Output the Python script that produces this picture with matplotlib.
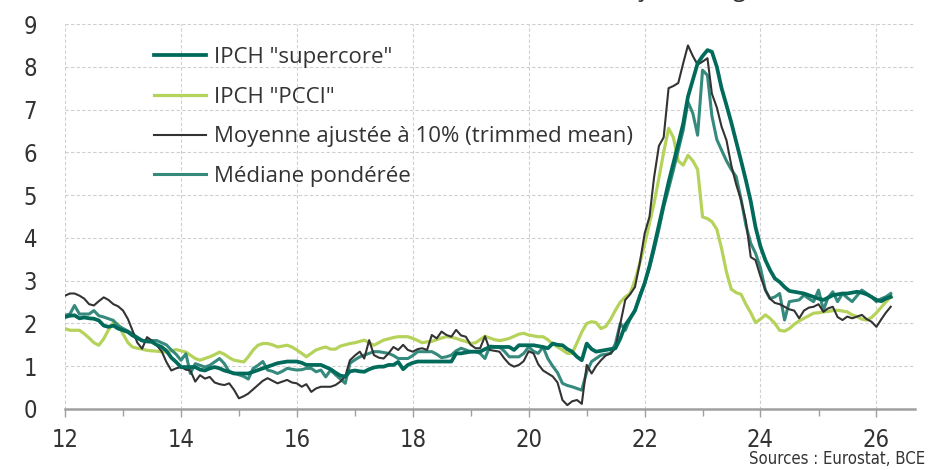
import matplotlib
matplotlib.use("Agg")
import matplotlib.pyplot as plt
import matplotlib.dates as mdates
from matplotlib import font_manager as fm
import numpy as np
import pandas as pd

# monthly values, Jan 2012 -> Apr 2026 (% y/y)
supercore = [
    2.15, 2.18, 2.19, 2.12, 2.14, 2.12, 2.11, 2.07, 1.95, 1.92, 1.95, 1.88,
    1.84, 1.80, 1.72, 1.66, 1.60, 1.58, 1.57, 1.50, 1.45, 1.36, 1.20, 1.10,
    0.98, 0.98, 0.98, 0.98, 0.92, 0.90, 0.95, 0.98, 0.95, 0.90, 0.87, 0.83,
    0.83, 0.83, 0.83, 0.87, 0.91, 0.95, 0.99, 1.03, 1.07, 1.09, 1.11, 1.11,
    1.11, 1.08, 1.03, 1.03, 1.03, 1.03, 0.98, 0.93, 0.85, 0.78, 0.76, 0.88,
    0.90, 0.88, 0.87, 0.93, 0.97, 0.99, 0.99, 1.03, 1.03, 1.10, 0.93, 1.03,
    1.08, 1.11, 1.11, 1.11, 1.11, 1.11, 1.11, 1.11, 1.11, 1.30, 1.30, 1.32,
    1.34, 1.34, 1.34, 1.40, 1.45, 1.45, 1.45, 1.45, 1.45, 1.38, 1.49, 1.49,
    1.49, 1.49, 1.47, 1.45, 1.42, 1.53, 1.50, 1.49, 1.40, 1.34, 1.22, 1.14,
    1.53, 1.40, 1.34, 1.36, 1.38, 1.40, 1.42, 1.65, 1.96, 2.12, 2.30, 2.62,
    2.94, 3.35, 3.79, 4.30, 4.80, 5.30, 5.74, 6.20, 6.67, 7.30, 7.70, 8.08,
    8.25, 8.39, 8.35, 8.00, 7.50, 7.10, 6.70, 6.25, 5.80, 5.35, 4.85, 4.25,
    3.80, 3.48, 3.25, 3.05, 2.97, 2.85, 2.76, 2.74, 2.72, 2.70, 2.66, 2.62,
    2.58, 2.55, 2.60, 2.66, 2.68, 2.70, 2.70, 2.72, 2.74, 2.72, 2.68, 2.62,
    2.55, 2.52, 2.58, 2.62,
]
pcci = [
    1.88, 1.84, 1.84, 1.84, 1.76, 1.66, 1.55, 1.49, 1.64, 1.85, 2.02, 1.98,
    1.75, 1.55, 1.45, 1.42, 1.40, 1.37, 1.36, 1.35, 1.34, 1.33, 1.36, 1.39,
    1.36, 1.33, 1.26, 1.18, 1.14, 1.18, 1.22, 1.27, 1.33, 1.28, 1.20, 1.14,
    1.12, 1.10, 1.22, 1.38, 1.49, 1.53, 1.53, 1.50, 1.45, 1.47, 1.49, 1.45,
    1.38, 1.30, 1.22, 1.30, 1.38, 1.42, 1.45, 1.40, 1.40, 1.47, 1.50, 1.53,
    1.55, 1.58, 1.61, 1.55, 1.49, 1.55, 1.61, 1.64, 1.67, 1.69, 1.69, 1.69,
    1.65, 1.60, 1.55, 1.57, 1.58, 1.62, 1.66, 1.69, 1.68, 1.65, 1.61, 1.58,
    1.53, 1.55, 1.62, 1.70, 1.66, 1.62, 1.60, 1.62, 1.65, 1.70, 1.75, 1.77,
    1.73, 1.71, 1.69, 1.69, 1.62, 1.52, 1.45, 1.38, 1.30, 1.30, 1.55, 1.80,
    2.00, 2.04, 2.02, 1.88, 1.93, 2.10, 2.31, 2.50, 2.62, 2.70, 3.00, 3.40,
    3.85, 4.35, 4.80, 5.40, 6.00, 6.56, 6.35, 5.80, 5.70, 5.93, 5.80, 5.60,
    4.49, 4.45, 4.38, 4.20, 3.75, 3.20, 2.80, 2.72, 2.68, 2.45, 2.25, 2.02,
    2.10, 2.20, 2.12, 2.00, 1.84, 1.82, 1.88, 1.98, 2.06, 2.12, 2.18, 2.24,
    2.25, 2.27, 2.28, 2.30, 2.31, 2.29, 2.27, 2.20, 2.16, 2.10, 2.08, 2.14,
    2.25, 2.38, 2.50, 2.62,
]
trimmed_mean = [
    2.65, 2.70, 2.70, 2.65, 2.58, 2.45, 2.42, 2.52, 2.61, 2.55, 2.45, 2.40,
    2.30, 2.10, 1.84, 1.55, 1.41, 1.68, 1.60, 1.49, 1.35, 1.10, 0.90, 0.95,
    0.98, 0.92, 0.90, 0.64, 0.79, 0.71, 0.75, 0.62, 0.58, 0.56, 0.60, 0.45,
    0.25, 0.30, 0.36, 0.46, 0.56, 0.66, 0.72, 0.66, 0.60, 0.64, 0.68, 0.62,
    0.60, 0.52, 0.58, 0.40, 0.48, 0.52, 0.52, 0.52, 0.56, 0.64, 0.76, 1.14,
    1.25, 1.34, 1.18, 1.61, 1.26, 1.20, 1.18, 1.30, 1.45, 1.38, 1.50, 1.38,
    1.34, 1.40, 1.42, 1.38, 1.73, 1.65, 1.81, 1.73, 1.69, 1.85, 1.72, 1.69,
    1.50, 1.42, 1.42, 1.70, 1.38, 1.36, 1.34, 1.18, 1.05, 0.99, 1.03, 1.12,
    1.35, 1.30, 1.05, 0.90, 0.83, 0.76, 0.62, 0.21, 0.09, 0.18, 0.21, 0.12,
    1.03, 0.83, 1.00, 1.14, 1.25, 1.30, 1.42, 2.00, 2.55, 2.68, 2.85, 3.40,
    4.10, 4.50, 5.40, 6.15, 6.35, 7.50, 7.55, 7.62, 8.08, 8.50, 8.25, 8.05,
    8.12, 8.20, 7.37, 7.05, 6.60, 6.28, 5.70, 5.25, 4.88, 4.40, 3.55, 3.48,
    3.10, 2.78, 2.58, 2.48, 2.45, 2.39, 2.33, 2.30, 2.12, 2.30, 2.37, 2.39,
    2.45, 2.27, 2.35, 2.39, 2.15, 2.08, 2.16, 2.12, 2.16, 2.20, 2.10, 2.04,
    1.92, 2.10, 2.25, 2.39,
]
median = [
    2.19, 2.22, 2.42, 2.22, 2.22, 2.22, 2.30, 2.18, 2.15, 2.11, 2.07, 1.95,
    1.88, 1.82, 1.76, 1.68, 1.60, 1.60, 1.60, 1.60, 1.55, 1.50, 1.38, 1.28,
    1.14, 1.29, 0.83, 1.06, 1.02, 0.98, 1.02, 1.10, 1.18, 1.06, 0.87, 0.84,
    0.80, 0.76, 0.70, 0.95, 1.02, 1.11, 0.91, 0.88, 0.83, 0.88, 0.95, 0.93,
    0.91, 0.92, 0.95, 0.95, 0.87, 0.91, 0.75, 0.91, 0.80, 0.70, 0.60, 1.07,
    1.15, 1.22, 1.26, 1.30, 1.34, 1.34, 1.32, 1.30, 1.25, 1.18, 1.18, 1.18,
    1.25, 1.34, 1.34, 1.34, 1.34, 1.28, 1.20, 1.22, 1.26, 1.36, 1.42, 1.38,
    1.34, 1.34, 1.30, 1.18, 1.47, 1.46, 1.45, 1.35, 1.22, 1.22, 1.22, 1.30,
    1.45, 1.35, 1.30, 1.45, 1.18, 1.00, 0.85, 0.60, 0.55, 0.52, 0.48, 0.44,
    0.87, 1.11, 1.18, 1.26, 1.28, 1.30, 1.53, 2.00, 1.84, 2.10, 2.31, 2.65,
    2.94, 3.30, 3.71, 4.20, 4.72, 5.15, 5.58, 6.05, 6.52, 7.18, 6.91, 6.40,
    7.92, 7.80, 6.85, 6.30, 6.05, 5.80, 5.60, 5.43, 4.90, 4.30, 3.87, 3.64,
    3.30, 2.78, 2.58, 2.62, 2.70, 2.08, 2.51, 2.53, 2.55, 2.66, 2.58, 2.51,
    2.78, 2.31, 2.60, 2.74, 2.51, 2.70, 2.60, 2.51, 2.65, 2.78, 2.70, 2.62,
    2.51, 2.58, 2.62, 2.70,
]
labels = ['IPCH "supercore"', 'IPCH "PCCI"',
          'Moyenne ajustée à 10% (trimmed mean)', 'Médiane pondérée']

dates = pd.date_range("2012-01-01", periods=len(supercore), freq="MS")


def narrow_font():
    # look for a condensed face for the tick labels
    wanted = [("Liberation Sans Narrow", None), ("DejaVu Sans", "condensed"),
              ("DejaVu Sans", "semi-condensed"), ("Roboto Condensed", None)]
    for name, stretch in wanted:
        for f in fm.fontManager.ttflist:
            if f.name != name or f.style != "normal":
                continue
            if str(f.weight) not in ("400", "normal", "regular", "book"):
                continue
            if stretch is not None and f.stretch != stretch:
                continue
            return f.fname
    return None


narrow = narrow_font()


def tick_prop(size):
    if narrow:
        return fm.FontProperties(fname=narrow, size=size)
    return fm.FontProperties(family="DejaVu Sans", stretch="condensed", size=size)


text_font = ["Open Sans", "DejaVu Sans"]

fig = plt.figure(figsize=(9.33, 4.7), dpi=100)
ax = fig.add_axes([65 / 933, 1 - 409 / 470, 850 / 933, 385 / 470])

l_pcci, = ax.plot(dates, pcci, color="#b5d35b", lw=2.3, zorder=3)
l_med, = ax.plot(dates, median, color="#35897d", lw=2.2, zorder=4)
l_tm, = ax.plot(dates, trimmed_mean, color="#333333", lw=1.5, zorder=5)
l_sc, = ax.plot(dates, supercore, color="#006a5b", lw=2.7, zorder=6)

ax.set_ylim(0, 9)
ax.set_xlim(pd.Timestamp("2012-01-01"), pd.Timestamp("2026-09-01"))
ax.set_yticks(range(0, 10))
ax.xaxis.set_major_locator(mdates.YearLocator(2))
ax.xaxis.set_minor_locator(mdates.YearLocator(1))
ax.xaxis.set_major_formatter(mdates.DateFormatter("%y"))

ax.grid(True, which="major", color="#cfcfcf", ls=(0, (3, 2)), lw=0.8)
ax.set_axisbelow(True)
for s in ["top", "right", "left"]:
    ax.spines[s].set_visible(False)
ax.spines["bottom"].set_color("#a0a0a0")
ax.spines["bottom"].set_linewidth(1.8)
ax.spines["bottom"].set_zorder(7)

ax.tick_params(axis="y", length=0, pad=20, labelcolor="#333333")
ax.tick_params(axis="x", which="major", length=6, color="#a0a0a0",
               width=1, pad=8, labelcolor="#333333")
ax.tick_params(axis="x", which="minor", length=5, color="#a0a0a0", width=1)
fig.canvas.draw()
for lab in ax.get_xticklabels() + ax.get_yticklabels():
    lab.set_fontproperties(tick_prop(17))

leg = ax.legend([l_sc, l_pcci, l_tm, l_med], labels,
                loc="upper left", bbox_to_anchor=(154 / 933, 1 - 47 / 470),
                bbox_transform=fig.transFigure, frameon=False,
                handlelength=2.35, handletextpad=0.36, labelspacing=0.84,
                borderpad=0, borderaxespad=0,
                prop={"family": text_font, "size": 16})
for t in leg.get_texts():
    t.set_color("#333333")

# title sits above the top edge, only its descenders show
fig.text(810 / 933, 1 + 4 / 470,
         "Zone euro : mesures de l'inflation sous-jacente (g.a., %)",
         ha="right", va="baseline", fontsize=17, family=text_font,
         color="#333333")
fig.text(925 / 933, 1 - 464 / 470, "Sources : Eurostat, BCE",
         ha="right", va="baseline", fontproperties=tick_prop(12),
         color="#333333")

fig.savefig("out.png", dpi=100)
